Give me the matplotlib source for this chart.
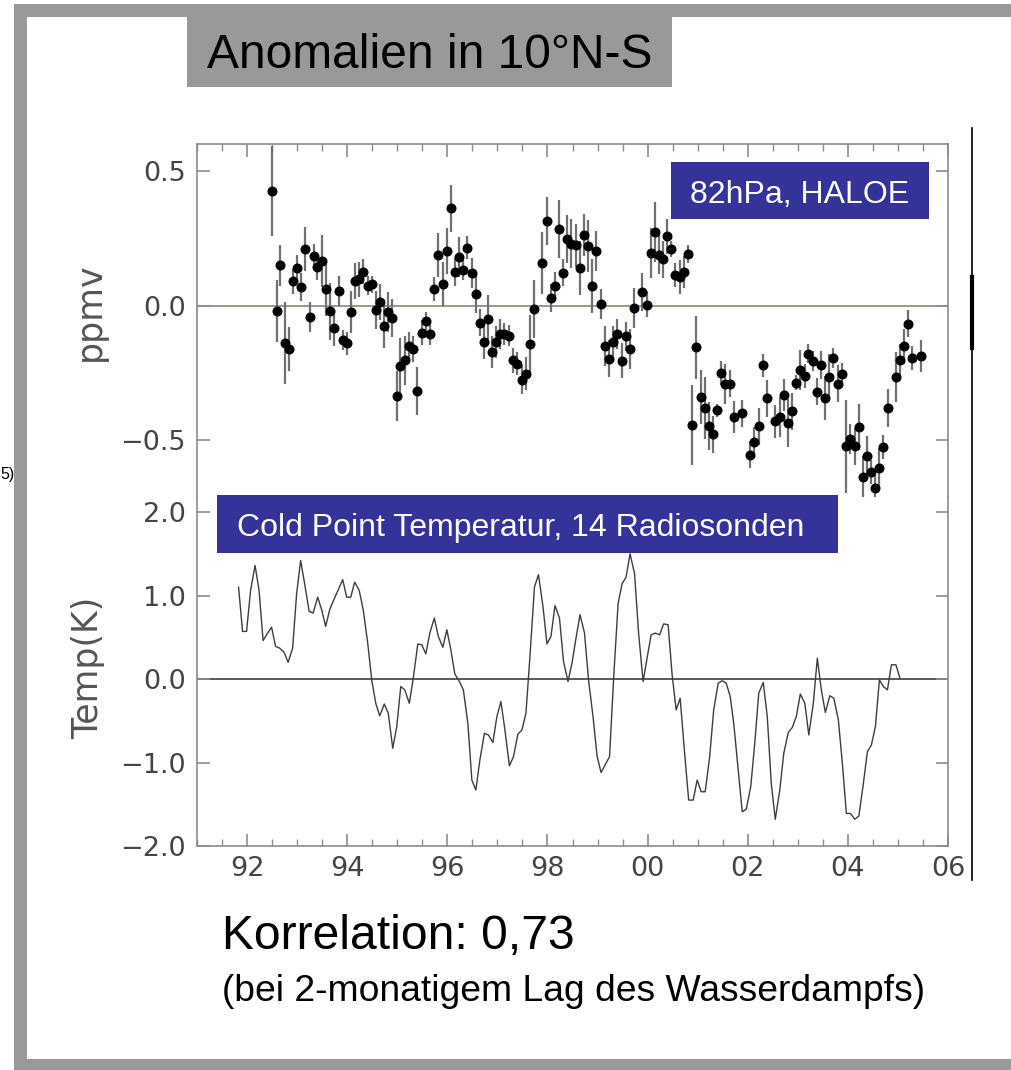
import matplotlib
matplotlib.use("Agg")
import matplotlib.pyplot as plt
from matplotlib.patches import Rectangle
from matplotlib.ticker import MultipleLocator, FuncFormatter

# HALOE water vapour anomalies at 82 hPa, 10N-10S (year - 1900, ppmv, error)
h2o_year = [92.49, 92.59, 92.65, 92.75, 92.83, 92.91, 92.99, 93.08, 93.16, 93.25,
            93.33, 93.40, 93.49, 93.57, 93.65, 93.74, 93.83, 93.91, 93.99, 94.08,
            94.15, 94.23, 94.31, 94.41, 94.49, 94.57, 94.65, 94.74, 94.82, 94.89,
            94.99, 95.06, 95.15, 95.23, 95.32, 95.40, 95.49, 95.57, 95.65, 95.74,
            95.82, 95.91, 95.99, 96.07, 96.15, 96.24, 96.32, 96.39, 96.49, 96.58,
            96.65, 96.73, 96.82, 96.90, 96.97, 97.05, 97.14, 97.23, 97.31, 97.39,
            97.49, 97.57, 97.65, 97.74, 97.90, 97.99, 98.07, 98.15, 98.23, 98.32,
            98.39, 98.47, 98.57, 98.65, 98.73, 98.81, 98.89, 98.97, 99.06, 99.15,
            99.23, 99.31, 99.39, 99.48, 99.56, 99.64, 99.72, 99.89, 99.98, 100.06,
            100.14, 100.23, 100.31, 100.39, 100.47, 100.55, 100.64, 100.73, 100.81, 100.89,
            100.97, 101.06, 101.14, 101.23, 101.31, 101.39, 101.47, 101.55, 101.64, 101.72,
            101.89, 102.05, 102.13, 102.22, 102.31, 102.39, 102.55, 102.64, 102.72, 102.81,
            102.88, 102.97, 103.05, 103.14, 103.21, 103.30, 103.39, 103.47, 103.55, 103.63,
            103.71, 103.80, 103.89, 103.97, 104.05, 104.14, 104.22, 104.30, 104.38, 104.47,
            104.55, 104.63, 104.71, 104.80, 104.97, 105.05, 105.13, 105.21, 105.29, 105.46]
h2o_anom = [0.426, -0.019, 0.151, -0.138, -0.160, 0.092, 0.142, 0.071, 0.212, -0.041,
            0.185, 0.145, 0.167, 0.063, -0.020, -0.082, 0.055, -0.125, -0.138, -0.022,
            0.093, 0.100, 0.128, 0.076, 0.081, -0.016, 0.015, -0.074, -0.022, -0.045,
            -0.333, -0.224, -0.202, -0.147, -0.160, -0.317, -0.099, -0.055, -0.103, 0.063,
            0.188, 0.082, 0.204, 0.363, 0.126, 0.182, 0.135, 0.217, 0.123, 0.046,
            -0.063, -0.135, -0.048, -0.170, -0.133, -0.103, -0.105, -0.110, -0.202, -0.214,
            -0.274, -0.252, -0.143, -0.010, 0.160, 0.316, 0.030, 0.076, 0.286, 0.124,
            0.249, 0.232, 0.226, 0.141, 0.263, 0.222, 0.074, 0.204, 0.007, -0.150,
            -0.196, -0.135, -0.104, -0.204, -0.113, -0.159, -0.007, 0.052, 0.005, 0.198,
            0.275, 0.191, 0.173, 0.259, 0.212, 0.115, 0.108, 0.125, 0.192, -0.442,
            -0.154, -0.338, -0.378, -0.447, -0.477, -0.388, -0.249, -0.289, -0.289, -0.413,
            -0.398, -0.553, -0.507, -0.447, -0.221, -0.343, -0.429, -0.413, -0.332, -0.435,
            -0.392, -0.285, -0.238, -0.260, -0.177, -0.203, -0.318, -0.219, -0.341, -0.263,
            -0.192, -0.289, -0.254, -0.522, -0.494, -0.522, -0.450, -0.636, -0.559, -0.617,
            -0.677, -0.601, -0.524, -0.378, -0.264, -0.200, -0.150, -0.066, -0.193, -0.187]
h2o_err = [0.167, 0.116, 0.077, 0.152, 0.081, 0.046, 0.046, 0.053, 0.082, 0.056,
           0.045, 0.050, 0.095, 0.099, 0.105, 0.065, 0.056, 0.037, 0.043, 0.077,
           0.068, 0.065, 0.048, 0.036, 0.031, 0.071, 0.068, 0.081, 0.074, 0.071,
           0.093, 0.105, 0.090, 0.050, 0.050, 0.090, 0.046, 0.034, 0.043, 0.043,
           0.082, 0.082, 0.084, 0.088, 0.053, 0.074, 0.037, 0.043, 0.056, 0.071,
           0.050, 0.062, 0.087, 0.059, 0.059, 0.056, 0.040, 0.040, 0.046, 0.043,
           0.053, 0.062, 0.110, 0.108, 0.115, 0.090, 0.053, 0.050, 0.108, 0.050,
           0.090, 0.090, 0.080, 0.099, 0.077, 0.096, 0.099, 0.074, 0.056, 0.074,
           0.068, 0.062, 0.056, 0.065, 0.053, 0.074, 0.074, 0.071, 0.046, 0.093,
           0.112, 0.074, 0.068, 0.065, 0.031, 0.046, 0.062, 0.059, 0.034, 0.149,
           0.118, 0.099, 0.115, 0.090, 0.068, 0.025, 0.043, 0.074, 0.050, 0.059,
           0.050, 0.050, 0.056, 0.068, 0.043, 0.068, 0.062, 0.074, 0.059, 0.090,
           0.068, 0.028, 0.074, 0.046, 0.034, 0.037, 0.050, 0.053, 0.081, 0.084,
           0.037, 0.068, 0.043, 0.173, 0.056, 0.068, 0.084, 0.077, 0.077, 0.043,
           0.050, 0.074, 0.043, 0.071, 0.093, 0.059, 0.065, 0.050, 0.046, 0.059]

# cold point temperature anomalies from 14 radiosonde stations (K)
cpt_year = [91.83, 91.91, 91.99, 92.07, 92.16, 92.24, 92.32, 92.41, 92.49, 92.57,
            92.65, 92.74, 92.82, 92.91, 92.99, 93.07, 93.15, 93.24, 93.32, 93.41,
            93.49, 93.57, 93.65, 93.74, 93.83, 93.91, 93.99, 94.07, 94.15, 94.24,
            94.32, 94.41, 94.49, 94.57, 94.65, 94.74, 94.82, 94.91, 94.99, 95.07,
            95.15, 95.24, 95.32, 95.41, 95.49, 95.57, 95.65, 95.74, 95.82, 95.91,
            95.99, 96.07, 96.15, 96.24, 96.32, 96.41, 96.49, 96.57, 96.65, 96.74,
            96.82, 96.91, 96.99, 97.07, 97.15, 97.24, 97.32, 97.41, 97.49, 97.57,
            97.65, 97.74, 97.82, 97.91, 97.99, 98.07, 98.15, 98.24, 98.32, 98.41,
            98.49, 98.57, 98.65, 98.74, 98.82, 98.91, 98.99, 99.07, 99.15, 99.24,
            99.32, 99.41, 99.49, 99.57, 99.65, 99.74, 99.82, 99.91, 99.99, 100.07,
            100.15, 100.24, 100.32, 100.41, 100.49, 100.57, 100.65, 100.74, 100.82, 100.91,
            100.99, 101.07, 101.15, 101.24, 101.32, 101.41, 101.49, 101.57, 101.65, 101.72,
            101.81, 101.89, 101.97, 102.06, 102.14, 102.22, 102.31, 102.39, 102.47, 102.55,
            102.64, 102.72, 102.81, 102.89, 102.97, 103.05, 103.14, 103.22, 103.31, 103.39,
            103.47, 103.55, 103.64, 103.72, 103.81, 103.89, 103.97, 104.05, 104.14, 104.22,
            104.31, 104.39, 104.47, 104.55, 104.63, 104.71, 104.79, 104.87, 104.96, 105.04]
cpt_anom = [1.10, 0.57, 0.57, 1.06, 1.36, 1.06, 0.46, 0.55, 0.62, 0.39,
            0.37, 0.32, 0.20, 0.37, 1.02, 1.42, 1.14, 0.81, 0.79, 0.98,
            0.83, 0.63, 0.83, 0.96, 1.08, 1.19, 0.98, 0.98, 1.16, 1.06,
            0.83, 0.43, -0.01, -0.29, -0.44, -0.30, -0.41, -0.83, -0.57, -0.09,
            -0.13, -0.29, 0.01, 0.42, 0.41, 0.30, 0.55, 0.73, 0.51, 0.38,
            0.59, 0.35, 0.06, -0.03, -0.13, -0.53, -1.21, -1.33, -0.97, -0.65,
            -0.67, -0.76, -0.45, -0.27, -0.61, -1.04, -0.93, -0.66, -0.61, -0.41,
            0.27, 1.10, 1.25, 0.87, 0.42, 0.51, 0.88, 0.73, 0.21, -0.03,
            0.19, 0.49, 0.77, 0.55, -0.01, -0.45, -0.92, -1.12, -1.03, -0.93,
            -0.01, 0.90, 1.14, 1.22, 1.50, 1.26, 0.55, -0.03, 0.25, 0.53,
            0.55, 0.53, 0.66, 0.65, 0.05, -0.37, -0.23, -0.89, -1.45, -1.45,
            -1.21, -1.35, -1.35, -0.93, -0.37, -0.05, -0.02, -0.05, -0.21, -0.53,
            -1.09, -1.59, -1.56, -1.29, -0.77, -0.17, -0.04, -0.45, -1.25, -1.68,
            -1.33, -0.89, -0.64, -0.58, -0.45, -0.18, -0.29, -0.67, -0.29, 0.25,
            -0.13, -0.40, -0.20, -0.23, -0.49, -1.01, -1.61, -1.61, -1.68, -1.64,
            -1.25, -0.87, -0.79, -0.57, -0.01, -0.09, -0.13, 0.17, 0.17, 0.01]

W, H = 1012, 1070
fig = plt.figure(figsize=(W / 100, H / 100), dpi=100)
fig.patch.set_facecolor('white')


def pixel_axes(x0, y0, x1, y1, **kw):
    return fig.add_axes([x0 / W, 1 - y1 / H, (x1 - x0) / W, (y1 - y0) / H], **kw)


def idl_style(ax):
    for s in ax.spines.values():
        s.set_color('#8c8c8c')
        s.set_linewidth(1.2)
    ax.tick_params(which='both', direction='in', top=True, right=True,
                   colors='#8c8c8c', labelcolor='#444444', labelsize=19.5)
    ax.tick_params(which='major', length=9, width=1.2, pad=8)
    ax.tick_params(which='minor', length=5, width=1.0)
    ax.xaxis.set_major_locator(MultipleLocator(2))
    ax.xaxis.set_minor_locator(MultipleLocator(0.5))
    ax.set_xlim(91.0, 106.0)


def signed(v, pos):
    return f"{v:.1f}".replace('-', '\u2212')


# upper panel: HALOE water vapour
ax1 = pixel_axes(197, 144, 948, 497)
idl_style(ax1)
ax1.spines['bottom'].set_visible(False)
ax1.tick_params(which='both', bottom=False, labelbottom=False)
ax1.set_ylim(-0.71, 0.602)
ax1.yaxis.set_major_locator(MultipleLocator(0.5))
ax1.yaxis.set_major_formatter(FuncFormatter(signed))
ax1.axhline(0, color='#8a8a6e', lw=1.2, zorder=1)
ax1.errorbar(h2o_year, h2o_anom, yerr=h2o_err, fmt='o', color='black', ms=6.2,
             ecolor='#707070', elinewidth=1.6, capsize=0, zorder=3)

# lower panel: cold point temperature
ax2 = pixel_axes(197, 497, 948, 846)
idl_style(ax2)
ax2.spines['top'].set_visible(False)
ax2.tick_params(which='both', top=False)
ax2.set_ylim(-2.0, 2.18)
ax2.yaxis.set_major_locator(MultipleLocator(1.0))
ax2.yaxis.set_major_formatter(FuncFormatter(signed))
ax2.xaxis.set_major_formatter(FuncFormatter(lambda v, p: f"{int(round(v)) % 100:02d}"))
ax2.tick_params(axis='x', which='major', pad=7)
ax2.axhline(0, color='#5a5a5a', lw=1.4, zorder=1)
ax2.plot(cpt_year, cpt_anom, color='#3d3d3d', lw=1.0, zorder=2)

# slide decoration drawn in pixel coordinates on top
ov = fig.add_axes([0, 0, 1, 1], zorder=10)
ov.set_xlim(0, W)
ov.set_ylim(H, 0)
ov.axis('off')
ov.patch.set_alpha(0)

frame = '#999999'
ov.add_patch(Rectangle((14, 4), W - 14, 13, color=frame, lw=0))
ov.add_patch(Rectangle((14, 4), 13, H - 4, color=frame, lw=0))
ov.add_patch(Rectangle((14, 1059), W - 14, 11, color=frame, lw=0))
ov.add_patch(Rectangle((187, 17), 485, 70, color=frame, lw=0))
ov.text(207, 68, 'Anomalien in 10°N-S', fontsize=34.5, family='Liberation Sans',
        color='black', ha='left', va='baseline')

navy = '#333399'
ov.add_patch(Rectangle((671, 162), 258, 57, color=navy, lw=0))
ov.text(690, 203, '82hPa, HALOE', fontsize=23, family='Liberation Sans',
        color='white', ha='left', va='baseline')
ov.add_patch(Rectangle((217, 495), 621, 58, color=navy, lw=0))
ov.text(237, 536, 'Cold Point Temperatur, 14 Radiosonden', fontsize=23,
        family='Liberation Sans', color='white', ha='left', va='baseline')

ov.text(90, 312, 'ppmv', fontsize=25, color='#555555', rotation=90,
        ha='center', va='center')
ov.text(88, 668, 'Temp(K)', fontsize=25, color='#555555', rotation=90,
        ha='center', va='center')

ov.text(222, 949, 'Korrelation: 0,73', fontsize=34.6, family='Liberation Sans',
        color='black', ha='left', va='baseline')
ov.text(222, 1001, '(bei 2-monatigem Lag des Wasserdampfs)', fontsize=26.8,
        family='Liberation Sans', color='black', ha='left', va='baseline')

# stray label from the neighbouring slide, squeezed into the margin
ov.text(0.5, 474, '5)', fontsize=11.5, family='Liberation Sans', color='black',
        ha='left', va='center')

ov.plot([972, 972], [128, 880], color='black', lw=1.2)
ov.plot([972, 972], [277, 348], color='black', lw=3)

fig.savefig('out.png', dpi=100)
